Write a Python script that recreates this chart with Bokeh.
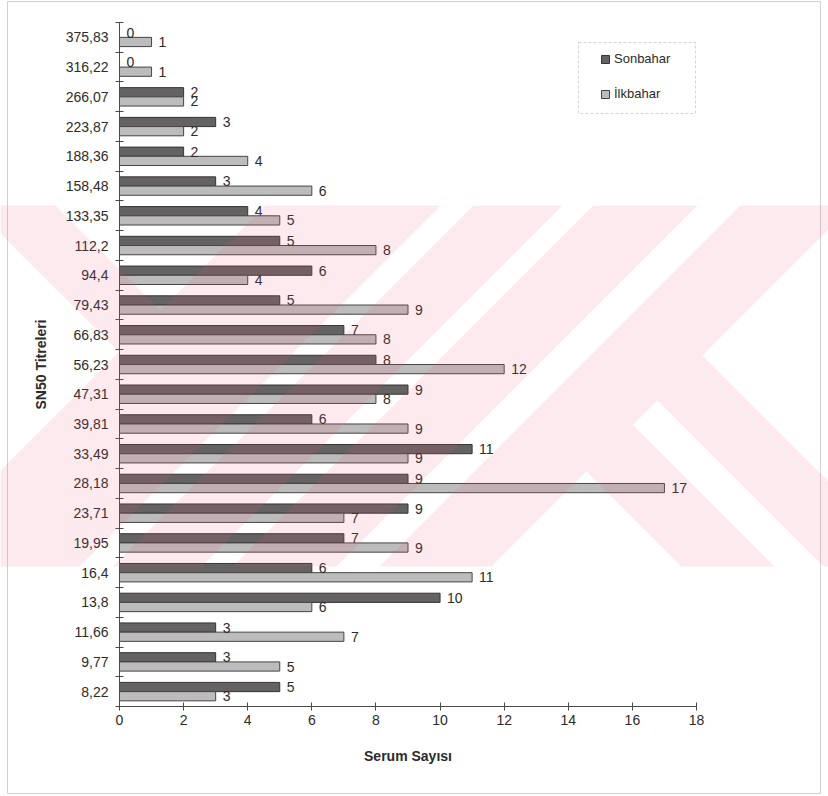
from bokeh.plotting import figure
from bokeh.models import (Range1d, FixedTicker, Legend, LegendItem,
                          ColumnDataSource, PolyAnnotation)
from bokeh.transform import dodge
from bokeh.core.properties import value
from bokeh.embed import file_html
from bokeh.resources import INLINE

# SN50 titre classes, listed from the top of the chart downwards
titers = ["375,83", "316,22", "266,07", "223,87", "188,36", "158,48", "133,35",
          "112,2", "94,4", "79,43", "66,83", "56,23", "47,31", "39,81", "33,49",
          "28,18", "23,71", "19,95", "16,4", "13,8", "11,66", "9,77", "8,22"]
# number of sera per titre class
sonbahar = [0, 0, 2, 3, 2, 3, 4, 5, 6, 5, 7, 8, 9, 6, 11, 9, 9, 7, 6, 10, 3, 3, 5]
ilkbahar = [1, 1, 2, 2, 4, 6, 5, 8, 4, 9, 8, 12, 8, 9, 9, 17, 7, 9, 11, 6, 7, 5, 3]
x_ticks = [0, 2, 4, 6, 8, 10, 12, 14, 16, 18]

# page and plot-area geometry in pixels
W, H = 828, 796
AX_L, AX_R, AX_T, AX_B = 119, 696, 22, 706
FONT = "Liberation Sans"
INK = "#2b2b2b"
AXIS = "#4a4a4a"
DARK_FILL, DARK_LINE = "#646262", "#353535"
LIGHT_FILL, LIGHT_LINE = "#bcbcbc", "#454545"

n = len(titers)
x_max = x_ticks[-1]
# category centres on a 0..n scale, top row highest
centers = [n - 1 - i + 0.5 for i in range(n)]
OFF = 0.155
BAR_H = 0.31

# the drawing area covers the whole page; the axes sit at x=0 / y=0
px_x = (AX_R - AX_L) / x_max
px_y = (AX_B - AX_T) / n
x_range = Range1d(-AX_L / px_x, (W - AX_L) / px_x)
y_range = Range1d(-(H - AX_B) / px_y, n + AX_T / px_y)

src = ColumnDataSource(dict(
    y=centers, son=sonbahar, ilk=ilkbahar,
    son_lbl=[str(v) for v in sonbahar], ilk_lbl=[str(v) for v in ilkbahar],
))

p = figure(width=W, height=H, output_backend="svg", toolbar_location=None,
           title=None, x_range=x_range, y_range=y_range,
           min_border=0, min_border_left=0, min_border_right=0,
           min_border_top=0, min_border_bottom=0,
           background_fill_color="white", border_fill_color="white",
           outline_line_color=None)
p.grid.visible = False

# x axis
xa = p.xaxis[0]
xa.fixed_location = 0
xa.bounds = (0, x_max)
xa.ticker = FixedTicker(ticks=x_ticks)
xa.major_tick_in = 4
xa.major_tick_out = 4
xa.minor_tick_line_color = None
xa.axis_line_color = AXIS
xa.major_tick_line_color = AXIS
xa.major_label_standoff = 4
xa.major_label_text_font = FONT
xa.major_label_text_font_size = "14px"
xa.major_label_text_color = INK
xa.axis_label = "Serum Sayısı"
xa.axis_label_text_font = FONT
xa.axis_label_text_font_style = "bold"
xa.axis_label_text_font_size = "14px"
xa.axis_label_text_color = INK
xa.axis_label_standoff = 20

# y axis: names at the category centres, crossing ticks on the boundaries
ya = p.yaxis[0]
ya.fixed_location = 0
ya.bounds = (0, n)
ya.ticker = FixedTicker(ticks=sorted(centers), minor_ticks=list(range(n + 1)))
ya.major_label_overrides = {c: t for c, t in zip(centers, titers)}
ya.major_tick_in = 0
ya.major_tick_out = 0
ya.minor_tick_in = 4
ya.minor_tick_out = 4
ya.minor_tick_line_color = AXIS
ya.axis_line_color = AXIS
ya.major_label_standoff = 7
ya.major_label_text_font = FONT
ya.major_label_text_font_size = "14px"
ya.major_label_text_color = INK
ya.axis_label = "SN50 Titreleri"
ya.axis_label_text_font = FONT
ya.axis_label_text_font_style = "bold"
ya.axis_label_text_font_size = "14px"
ya.axis_label_text_color = INK
ya.axis_label_standoff = 14

r_son = p.hbar(y=dodge("y", OFF), left=0, right="son", height=BAR_H, source=src,
               fill_color=DARK_FILL, line_color=DARK_LINE, line_width=1)
r_ilk = p.hbar(y=dodge("y", -OFF), left=0, right="ilk", height=BAR_H, source=src,
               fill_color=LIGHT_FILL, line_color=LIGHT_LINE, line_width=1)

lbl_kw = dict(x_offset=7, text_baseline="middle", text_align="left",
              text_font=value(FONT), text_font_size="14px", text_color=INK, source=src)
p.text(x="son", y=dodge("y", OFF), text="son_lbl", **lbl_kw)
p.text(x="ilk", y=dodge("y", -OFF), text="ilk_lbl", **lbl_kw)

legend = Legend(items=[LegendItem(label="Sonbahar", renderers=[r_son]),
                       LegendItem(label="İlkbahar", renderers=[r_ilk])],
                location=(600, H - 101), orientation="vertical",
                padding=0, spacing=20, margin=0,
                glyph_width=10, glyph_height=10, label_height=10, label_standoff=4,
                label_text_font=FONT, label_text_font_size="13px", label_text_color=INK,
                border_line_alpha=0, background_fill_alpha=0)
p.add_layout(legend, "center")


def canvas_poly(xs, ys, **kw):
    return PolyAnnotation(xs=xs, ys=ys, xs_units="canvas", ys_units="canvas", **kw)


# dashed frame round the legend and the thin page border
p.add_layout(canvas_poly([578, 695, 695, 578], [42, 42, 113, 113],
                         fill_alpha=0, line_color="#777777", line_dash="3 2", line_width=1))
p.add_layout(canvas_poly([7, 820, 820, 7], [1, 1, 793, 793],
                         fill_alpha=0, line_color="#666666", line_width=1))


# faint pink diagonal stamp across the middle of the page
def clip(poly, a, b, c):
    out = []
    for i in range(len(poly)):
        P, Q = poly[i], poly[(i + 1) % len(poly)]
        fp = a * P[0] + b * P[1] - c
        fq = a * Q[0] + b * Q[1] - c
        if fp <= 0:
            out.append(P)
        if (fp < 0 < fq) or (fq < 0 < fp):
            t = fp / (fp - fq)
            out.append((P[0] + t * (Q[0] - P[0]), P[1] + t * (Q[1] - P[1])))
    return out


BAND = [(0, 205), (W, 205), (W, 566), (0, 566)]
BIG = 10 ** 5
# each piece: (s_min, s_max, d_min, d_max) with s = x + y and d = x - y
pieces = [(-BIG, 470, -233, -150), (470, 645, -BIG, BIG), (678, 767, -BIG, BIG),
          (798, 902, -BIG, BIG), (945, 1057, -BIG, BIG),
          (1057, BIG, 115, 208), (1057, BIG, 257, 347)]
for s0, s1, d0, d1 in pieces:
    poly = BAND
    poly = clip(poly, -1, -1, -s0)
    poly = clip(poly, 1, 1, s1)
    poly = clip(poly, -1, 1, -d0)
    poly = clip(poly, 1, -1, d1)
    if len(poly) >= 3:
        p.add_layout(canvas_poly([q[0] for q in poly], [q[1] for q in poly],
                                 fill_color="#e65a78", fill_alpha=0.13,
                                 line_alpha=0))

open("out.html", "w").write(file_html(p, INLINE))
